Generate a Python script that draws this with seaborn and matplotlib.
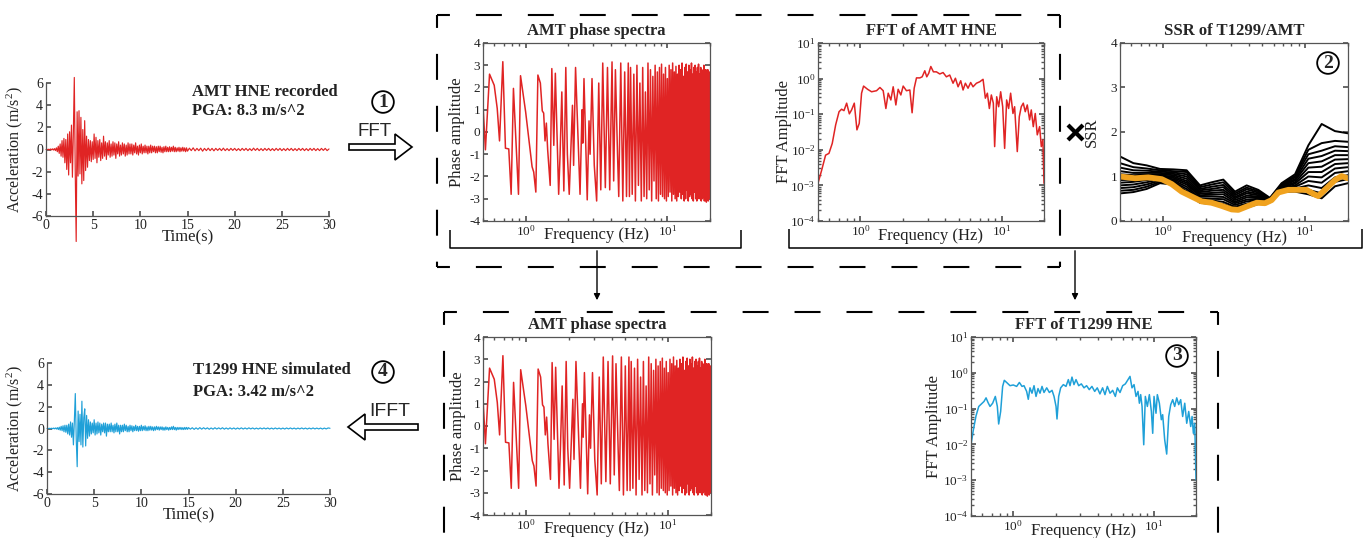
import numpy as np
import pandas as pd
import matplotlib
matplotlib.use("Agg")
import matplotlib.pyplot as plt
import matplotlib.patches as mpatches
import matplotlib.transforms as mtransforms
from matplotlib.lines import Line2D
from matplotlib.ticker import NullFormatter, LogLocator
import seaborn as sns

RED = "#e02424"
BLUE = "#1fa0d8"
ORANGE = "#f0a21e"
GRAY = "#555555"
TXT = "#222222"

# ---- acceleration records (m/s^2), 0-14.9 s every 0.1 s, then 15-30 s every 0.2 s
amt_acc_early = [
    0.00, 0.02, -0.02, 0.03, -0.03, 0.05, -0.04, 0.06, -0.05, 0.08,
    -0.10, 0.15, -0.20, 0.30, -0.35, 0.50, -0.60, 0.80, -0.70, 1.00,
    -1.20, 0.90, -1.80, 1.40, -2.30, 1.60, -1.20, 2.20, -2.50, 1.50,
    6.50, -2.00, -8.30, 3.40, -2.40, 3.50, -2.20, 2.90, -3.10, 1.80,
    -2.80, 2.60, -1.90, 1.20, -1.60, 0.90, -1.00, 0.80, -1.10, 0.70,
    -0.90, 1.40, -0.80, 1.10, -1.20, 0.80, -0.70, 0.90, -1.00, 0.60,
    -0.80, 1.20, -0.60, 0.70, -0.90, 0.60, -0.50, 0.80, -0.70, 0.50,
    -0.60, 0.70, -0.50, 0.60, -0.80, 0.50, -0.40, 0.70, -0.60, 0.40,
    -0.50, 0.60, -0.40, 0.50, -0.60, 0.40, -0.50, 0.60, -0.40, 0.50,
    -0.40, 0.50, -0.50, 0.40, -0.30, 0.60, -0.40, 0.30, -0.50, 0.40,
    -0.30, 0.50, -0.40, 0.30, -0.30, 0.40, -0.30, 0.30, -0.40, 0.30,
    -0.30, 0.40, -0.30, 0.30, -0.20, 0.30, -0.30, 0.25, -0.30, 0.30,
    -0.20, 0.30, -0.25, 0.20, -0.30, 0.25, -0.20, 0.30, -0.20, 0.20,
    -0.20, 0.25, -0.20, 0.20, -0.15, 0.30, -0.20, 0.20, -0.20, 0.15,
    -0.15, 0.20, -0.20, 0.15, -0.15, 0.20, -0.15, 0.15, -0.20, 0.15,
]
amt_acc_late = [
    -0.15, 0.12, -0.10, 0.15, -0.12, 0.10, -0.10, 0.12, -0.15, 0.10,
    -0.10, 0.12, -0.10, 0.10, -0.12, 0.10, -0.08, 0.10, -0.10, 0.12,
    -0.10, 0.08, -0.10, 0.10, -0.08, 0.10, -0.10, 0.08, -0.10, 0.10,
    -0.08, 0.10, -0.10, 0.08, -0.10, 0.12, -0.08, 0.10, -0.10, 0.08,
    -0.10, 0.10, -0.08, 0.10, -0.10, 0.08, -0.10, 0.10, -0.08, 0.10,
    -0.10, 0.08, -0.10, 0.10, -0.08, 0.10, -0.10, 0.08, -0.10, 0.10,
    -0.08, 0.10, -0.10, 0.08, -0.10, 0.10, -0.08, 0.10, -0.10, 0.08,
    -0.10, 0.10, -0.08, 0.10, -0.10, 0.05,
]
sim_acc_early = [
    0.00, 0.01, -0.01, 0.02, -0.02, 0.03, -0.03, 0.04, -0.03, 0.05,
    -0.05, 0.08, -0.10, 0.12, -0.15, 0.20, -0.20, 0.25, -0.30, 0.30,
    -0.35, 0.30, -0.50, 0.40, -0.60, 0.60, -0.80, 0.50, -1.50, 0.70,
    3.20, -1.00, -3.50, 1.60, -1.20, 1.30, -1.50, 2.50, -1.70, 1.00,
    1.80, -1.60, 1.20, -0.90, 0.80, -0.70, 0.60, -0.50, 0.50, -0.40,
    0.80, -0.60, 0.50, -0.50, 0.60, -0.40, 0.50, -0.60, 0.40, -0.30,
    0.50, -0.40, 0.50, -0.70, 0.40, -0.30, 0.40, -0.30, 0.50, -0.30,
    0.30, -0.40, 0.40, -0.30, 0.50, -0.30, 0.30, -0.50, 0.30, -0.30,
    0.30, -0.30, 0.40, -0.20, 0.30, -0.30, 0.20, -0.30, 0.30, -0.20,
    0.25, -0.30, 0.20, -0.20, 0.30, -0.20, 0.20, -0.25, 0.20, -0.20,
    0.30, -0.20, 0.20, -0.15, 0.25, -0.20, 0.15, -0.20, 0.20, -0.15,
    0.20, -0.15, 0.15, -0.20, 0.15, -0.15, 0.20, -0.10, 0.15, -0.15,
    0.15, -0.10, 0.15, -0.15, 0.10, -0.15, 0.15, -0.10, 0.10, -0.15,
    0.10, -0.10, 0.15, -0.10, 0.20, -0.10, 0.10, -0.15, 0.10, -0.10,
    0.10, -0.08, 0.10, -0.10, 0.08, -0.10, 0.10, -0.08, 0.10, -0.08,
]
sim_acc_late = [
    0.08, -0.06, 0.07, -0.08, 0.06, -0.07, 0.08, -0.06, 0.07, -0.05,
    0.06, -0.07, 0.05, -0.06, 0.07, -0.05, 0.06, -0.05, 0.07, -0.06,
    0.05, -0.06, 0.06, -0.05, 0.05, -0.06, 0.05, -0.05, 0.06, -0.05,
    0.05, -0.05, 0.06, -0.04, 0.05, -0.05, 0.04, -0.05, 0.05, -0.04,
    0.05, -0.04, 0.05, -0.05, 0.04, -0.05, 0.05, -0.04, 0.04, -0.05,
    0.04, -0.05, 0.05, -0.04, 0.05, -0.04, 0.04, -0.05, 0.04, -0.04,
    0.05, -0.04, 0.04, -0.05, 0.04, -0.04, 0.05, -0.04, 0.04, -0.04,
    0.04, -0.05, 0.04, -0.04, 0.05, 0.02,
]

# ---- AMT phase spectrum (rad): picked points below 5.5 Hz, then 0.15 Hz bins
phase_f_lo = [
    0.50, 0.52, 0.556, 0.60, 0.63, 0.654, 0.69, 0.72, 0.76, 0.79,
    0.82, 0.89, 0.92, 1.00, 1.11, 1.14, 1.18, 1.22, 1.27, 1.31,
    1.34, 1.37, 1.40, 1.43, 1.49, 1.53, 1.58, 1.62, 1.71, 1.75,
    1.80, 1.86, 1.92, 1.97, 2.03, 2.14, 2.18, 2.25, 2.42, 2.50,
    2.53, 2.58, 2.72, 2.80, 2.85, 2.94, 3.05, 3.17, 3.28, 3.39,
    3.50, 3.65, 3.78, 3.92, 4.07, 4.18, 4.30, 4.45, 4.54, 4.69,
    4.85, 5.00, 5.15, 5.30, 5.40,
]
phase_v_lo = [
    1.2, -0.8, 2.6, 2.1, 1.06, -0.4, 3.16, -0.73, -0.76, -2.8,
    1.96, -2.8, 2.53, 0.9, -1.56, -1.8, -2.7, 2.56, 2.2, 0.95,
    0.85, -0.4, 0.4, -0.8, -2.4, 2.85, -0.6, 2.64, -2.8, -1.0,
    1.8, -2.65, 2.9, -1.0, -2.8, 1.2, -1.5, 2.9, -2.8, 1.0,
    -0.5, 2.4, -3.05, 0.5, -1.0, 2.4, -1.5, -3.1, 2.2, -2.6,
    3.1, -2.5, 2.9, -2.6, 3.15, -2.2, 2.8, -1.0, -2.9, 3.1,
    -3.1, 2.7, -2.9, 3.1, -2.9,
]
phase_v_hi = [
    2.9, -2.8, 2.6, -3.1, 3.0, -2.4, 2.2, -3.1, 2.9, -2.9,
    1.8, -3.0, 3.1, -2.6, 2.8, -3.1, 2.5, -2.2, 3.0, -3.0,
    2.7, -3.1, 2.9, -2.8, 3.05, -2.9, 2.6, -3.0, 2.9, -3.1,
    2.4, -2.9, 3.0, -2.7, 2.8, -3.1, 3.1, -2.8, 2.7, -3.0,
    2.95, -3.1, 2.6, -2.9, 3.0, -2.7, 2.8, -3.0, 3.1, -2.8,
    2.5, -3.1, 2.9, -3.0, 3.05, -2.6, 2.7, -3.1, 3.0, -2.9,
    2.8, -2.8, 3.1, -3.0, 2.6, -3.1, 2.9, -2.7, 3.0, -3.0,
    2.7, -3.1, 2.9, -2.9, 3.05, -3.0, 2.6, -2.8, 2.9, -3.1,
    2.8, -3.0, 2.5, -2.9, 3.0, -3.1, 2.7, -3.0, 2.8, -3.15,
    2.6, -2.9, 2.8, -3.1, 2.5, -3.0, 2.7,
]

# ---- Fourier amplitude spectra (log10 of amplitude)
amt_fft_f = [
    0.5, 0.531, 0.566, 0.598, 0.631, 0.667, 0.705, 0.735, 0.764, 0.798,
    0.834, 0.865, 0.904, 0.944, 0.980, 1.018, 1.052, 1.123, 1.199, 1.300,
    1.374, 1.449, 1.514, 1.573, 1.642, 1.706, 1.782, 1.850, 1.933, 2.008,
    2.118, 2.239, 2.323, 2.403, 2.495, 2.636, 2.737, 2.858, 2.951, 3.048,
    3.153, 3.289, 3.455, 3.648, 3.851, 4.066, 4.293, 4.532, 4.710, 4.920,
    5.137, 5.337, 5.543, 5.788, 6.043, 6.281, 6.637, 7.003, 7.396, 7.681,
    7.935, 8.197, 8.468, 8.747, 8.937, 9.24, 9.54, 9.86, 10.19, 10.52,
    10.87, 11.23, 11.60, 12.05, 12.38, 12.93, 13.36, 13.80, 14.26, 14.73,
    15.22, 15.81, 16.25, 16.79, 17.34, 17.92, 18.62, 19.14, 19.65, 20.0,
]
amt_fft_log = [
    -2.94, -2.57, -2.15, -2.10, -1.82, -1.30, -0.93, -0.86, -0.90, -0.69,
    -0.99, -0.88, -0.69, -1.44, -1.26, -0.41, -0.21, -0.30, -0.37, -0.34,
    -0.25, -0.34, -0.84, -0.41, -0.60, -0.23, -0.74, -0.30, -0.46, -0.21,
    -0.34, -0.32, -0.96, -0.27, 0.02, 0.02, 0.05, 0.22, 0.05, 0.15,
    0.34, 0.19, 0.19, 0.13, 0.17, 0.05, 0.10, -0.13, 0.01, -0.23,
    -0.06, -0.32, -0.13, -0.27, -0.11, -0.23, -0.13, -0.09, -0.02, -0.55,
    -0.41, -0.84, -0.46, -0.69, -1.91, -0.51, -0.79, -0.37, -0.79, -1.96,
    -0.60, -0.84, -0.41, -0.98, -0.79, -2.05, -1.07, -0.79, -0.69, -0.93,
    -0.74, -1.16, -0.88, -1.35, -0.98, -1.58, -1.35, -1.91, -1.72, -2.94,
]
sim_fft_f = [
    0.50, 0.52, 0.543, 0.568, 0.593, 0.619, 0.640, 0.661, 0.683, 0.713,
    0.745, 0.770, 0.787, 0.813, 0.840, 0.863, 0.897, 0.948, 1.00, 1.057,
    1.105, 1.154, 1.192, 1.245, 1.279, 1.315, 1.359, 1.405, 1.452, 1.500,
    1.550, 1.602, 1.655, 1.730, 1.807, 1.888, 1.951, 2.016, 2.048, 2.105,
    2.175, 2.272, 2.374, 2.466, 2.535, 2.618, 2.705, 2.797, 2.922, 3.052,
    3.189, 3.327, 3.476, 3.631, 3.800, 3.963, 4.140, 4.325, 4.497, 4.675,
    4.884, 5.102, 5.330, 5.509, 5.754, 6.011, 6.280, 6.561, 6.777, 7.003,
    7.242, 7.482, 7.730, 7.906, 8.076, 8.260, 8.490, 8.716, 9.009, 9.311,
    9.623, 9.836, 10.05, 10.38, 10.61, 10.97, 11.33, 11.58, 11.97, 12.37,
    12.79, 13.21, 13.65, 14.10, 14.58, 15.06, 15.56, 16.07, 16.63, 17.18,
    17.75, 18.34, 18.75, 19.16, 19.59, 20.0,
]
sim_fft_log = [
    -2.01, -1.59, -1.20, -0.94, -0.87, -0.80, -0.70, -0.83, -0.94, -0.85,
    -0.66, -0.94, -1.43, -1.08, -0.38, -0.21, -0.27, -0.36, -0.34, -0.38,
    -0.27, -0.38, -0.36, -0.52, -0.74, -0.42, -0.57, -0.36, -0.66, -0.44,
    -0.57, -0.38, -0.55, -0.42, -0.55, -0.49, -0.66, -0.94, -1.29, -0.66,
    -0.42, -0.33, -0.38, -0.19, -0.36, -0.12, -0.33, -0.19, -0.36, -0.31,
    -0.42, -0.36, -0.47, -0.38, -0.52, -0.42, -0.59, -0.42, -0.61, -0.38,
    -0.57, -0.49, -0.66, -0.42, -0.55, -0.36, -0.31, -0.19, -0.10, -0.42,
    -0.33, -0.66, -0.52, -0.85, -0.61, -0.94, -2.01, -0.66, -0.94, -0.61,
    -1.08, -1.69, -0.66, -1.13, -0.61, -0.85, -1.31, -1.17, -1.87, -2.27,
    -1.22, -0.89, -0.75, -0.94, -0.70, -0.89, -0.75, -1.22, -0.85, -1.41,
    -1.08, -1.50, -1.22, -1.69, -1.41, -2.99,
]

# ---- site spectral ratios T1299/AMT
ssr_f = [0.50, 0.621, 0.770, 0.955, 1.185, 1.470, 1.824, 2.203, 2.660, 3.212,
         3.878, 4.683, 5.655, 6.83, 8.49, 10.53, 13.06, 16.2, 20.0]
ssr_black = [
    [0.62, 0.65, 0.72, 0.85, 0.82, 0.62, 0.41, 0.38, 0.33, 0.25, 0.30, 0.38, 0.42, 0.66, 0.66, 0.60, 0.51, 0.78, 0.85],
    [0.68, 0.70, 0.77, 0.88, 0.85, 0.67, 0.44, 0.42, 0.38, 0.29, 0.35, 0.41, 0.43, 0.68, 0.70, 0.70, 0.62, 0.88, 0.94],
    [0.74, 0.76, 0.82, 0.91, 0.88, 0.72, 0.48, 0.46, 0.43, 0.32, 0.39, 0.44, 0.44, 0.69, 0.73, 0.80, 0.74, 0.98, 1.03],
    [0.80, 0.82, 0.87, 0.94, 0.91, 0.77, 0.51, 0.50, 0.49, 0.36, 0.44, 0.47, 0.45, 0.71, 0.77, 0.90, 0.86, 1.08, 1.12],
    [0.86, 0.88, 0.92, 0.97, 0.94, 0.82, 0.55, 0.55, 0.54, 0.40, 0.48, 0.50, 0.46, 0.73, 0.80, 1.00, 0.98, 1.18, 1.21],
    [0.92, 0.93, 0.96, 1.00, 0.97, 0.86, 0.58, 0.59, 0.60, 0.43, 0.53, 0.53, 0.47, 0.74, 0.84, 1.10, 1.10, 1.28, 1.30],
    [0.98, 0.98, 1.00, 1.02, 1.00, 0.90, 0.62, 0.63, 0.65, 0.47, 0.57, 0.55, 0.47, 0.76, 0.87, 1.20, 1.22, 1.38, 1.39],
    [1.05, 1.03, 1.04, 1.05, 1.03, 0.95, 0.65, 0.68, 0.70, 0.51, 0.62, 0.58, 0.48, 0.78, 0.91, 1.30, 1.34, 1.48, 1.48],
    [1.12, 1.08, 1.08, 1.08, 1.06, 1.00, 0.69, 0.72, 0.76, 0.54, 0.66, 0.61, 0.49, 0.79, 0.94, 1.40, 1.46, 1.58, 1.57],
    [1.20, 1.14, 1.13, 1.11, 1.09, 1.05, 0.72, 0.77, 0.81, 0.58, 0.71, 0.64, 0.50, 0.81, 0.98, 1.50, 1.58, 1.68, 1.66],
    [1.30, 1.21, 1.18, 1.14, 1.12, 1.10, 0.76, 0.82, 0.87, 0.62, 0.75, 0.67, 0.51, 0.83, 1.01, 1.60, 1.75, 1.80, 1.78],
    [1.45, 1.30, 1.25, 1.17, 1.16, 1.14, 0.80, 0.87, 0.93, 0.66, 0.80, 0.70, 0.52, 0.85, 1.05, 1.70, 2.18, 2.02, 1.97],
]
ssr_orange_f = [0.50, 0.637, 0.791, 0.982, 1.154, 1.356, 1.593, 1.873, 2.203, 2.588,
                3.046, 3.390, 3.988, 4.563, 5.222, 5.816, 6.475, 7.617, 8.95, 10.24,
                11.41, 12.37, 13.77, 16.2, 18.05, 19.9]
ssr_orange = [1.00, 0.96, 0.98, 0.94, 0.83, 0.66, 0.55, 0.44, 0.41, 0.34,
              0.26, 0.25, 0.34, 0.41, 0.40, 0.47, 0.64, 0.70, 0.70, 0.70,
              0.61, 0.56, 0.70, 0.92, 1.01, 0.96]


sns.set_theme(style="ticks")
plt.rcParams["font.family"] = ["Liberation Serif", "DejaVu Serif"]
plt.rcParams["mathtext.fontset"] = "custom"
plt.rcParams["mathtext.rm"] = "Liberation Serif"
plt.rcParams["mathtext.it"] = "Liberation Serif:italic"
plt.rcParams["axes.unicode_minus"] = False
plt.rcParams["lines.scale_dashes"] = False

W, H = 1371, 538
fig = plt.figure(figsize=(W / 100, H / 100), dpi=100)
fig.patch.set_facecolor("white")
# pixel coords (origin top-left) -> figure
pix = mtransforms.Affine2D().scale(1 / W, -1 / H).translate(0, 1) + fig.transFigure


def add_ax(l, t, r, b):
    return fig.add_axes([l / W, 1 - b / H, (r - l) / W, (b - t) / H])


def style_ax(ax, box=True, size=9.5):
    for s in ax.spines.values():
        s.set_color(GRAY)
        s.set_linewidth(0.9)
    if not box:
        sns.despine(ax=ax)
    ax.tick_params(which="both", direction="in", top=box, right=box,
                   colors=GRAY, labelcolor=TXT, labelsize=size, pad=2)
    ax.tick_params(which="major", length=3.5)
    ax.tick_params(which="minor", length=2)
    ax.set_facecolor("white")
    ax.grid(False)


def log_x(ax):
    ax.set_xscale("log")
    ax.set_xlim(0.5, 20)
    ax.xaxis.set_minor_formatter(NullFormatter())


def time_panel(ax, early, late, color, ylx):
    t = np.concatenate([np.arange(len(early)) * 0.1, 15 + np.arange(len(late)) * 0.2])
    sns.lineplot(x=t, y=np.array(early + late), ax=ax, color=color, lw=0.85,
                 estimator=None, sort=False)
    ax.lines[-1].set_clip_on(False)
    style_ax(ax, box=False, size=10)
    ax.set_xlim(0, 30)
    ax.set_ylim(-6, 6)
    ax.set_xticks(range(0, 31, 5))
    ax.set_yticks(range(-6, 7, 2))
    ax.set_xlabel("Time(s)", fontsize=12, color=TXT)
    ax.set_ylabel("Acceleration (m/s$^2$)", fontsize=11.5, color=TXT)
    ax.xaxis.set_label_coords(0.5, -0.1)
    ax.yaxis.set_label_coords(ylx, 0.5)


def phase_panel(ax, ylx):
    f = np.concatenate([phase_f_lo, 5.5 + np.arange(len(phase_v_hi)) * 0.15])
    v = np.concatenate([phase_v_lo, phase_v_hi])
    sns.lineplot(x=f, y=v, ax=ax, color=RED, lw=1.1, estimator=None, sort=False)
    log_x(ax)
    ax.set_ylim(-4, 4)
    ax.set_yticks(range(-4, 5))
    style_ax(ax)
    ax.set_title("AMT phase spectra", fontsize=12, fontweight="bold")
    ax.set_xlabel("Frequency (Hz)", fontsize=12, color=TXT)
    ax.set_ylabel("Phase amplitude", fontsize=12, color=TXT)
    ax.xaxis.set_label_coords(0.5, -0.035)
    ax.yaxis.set_label_coords(ylx, 0.5)


def fft_panel(ax, f, logamp, color, title, ylx):
    sns.lineplot(x=np.array(f), y=10.0 ** np.array(logamp), ax=ax, color=color,
                 lw=1.1, estimator=None, sort=False)
    log_x(ax)
    ax.set_yscale("log")
    ax.set_ylim(1e-4, 10)
    ax.yaxis.set_major_locator(LogLocator(base=10, numticks=10))
    ax.yaxis.set_minor_locator(LogLocator(base=10, subs=np.arange(2, 10), numticks=10))
    ax.yaxis.set_minor_formatter(NullFormatter())
    style_ax(ax)
    ax.set_title(title, fontsize=12, fontweight="bold")
    ax.set_xlabel("Frequency (Hz)", fontsize=12, color=TXT)
    ax.set_ylabel("FFT Amplitude", fontsize=12, color=TXT)
    ax.xaxis.set_label_coords(0.5, -0.04)
    ax.yaxis.set_label_coords(ylx, 0.5)


# ---- panels
ax_rec = add_ax(46, 83, 329, 216)
time_panel(ax_rec, amt_acc_early, amt_acc_late, RED, -0.075)

ax_sim = add_ax(47, 363, 330, 494)
time_panel(ax_sim, sim_acc_early, sim_acc_late, BLUE, -0.078)

ax_ph1 = add_ax(483, 43, 710, 221)
phase_panel(ax_ph1, -0.08)

ax_ph2 = add_ax(483, 337, 711, 515)
phase_panel(ax_ph2, -0.075)

ax_fft1 = add_ax(818, 43, 1044, 221)
fft_panel(ax_fft1, amt_fft_f, amt_fft_log, RED, "FFT of AMT HNE", -0.115)

ax_fft2 = add_ax(971, 337, 1196, 516)
fft_panel(ax_fft2, sim_fft_f, sim_fft_log, BLUE, "FFT of T1299 HNE", -0.13)

ax_ssr = add_ax(1120, 43, 1348, 221)
ssr_df = pd.DataFrame({
    "freq": np.tile(ssr_f, len(ssr_black)),
    "ssr": np.concatenate(ssr_black),
    "curve": np.repeat(np.arange(len(ssr_black)), len(ssr_f)),
})
sns.lineplot(data=ssr_df, x="freq", y="ssr", units="curve", estimator=None,
             color="black", lw=1.4, sort=False, ax=ax_ssr)
sns.lineplot(x=ssr_orange_f, y=ssr_orange, color=ORANGE, lw=4.2,
             estimator=None, sort=False, ax=ax_ssr)
log_x(ax_ssr)
ax_ssr.set_ylim(0, 4)
ax_ssr.set_yticks(range(0, 5))
style_ax(ax_ssr)
ax_ssr.set_title("SSR of T1299/AMT", fontsize=12, fontweight="bold")
ax_ssr.set_xlabel("Frequency (Hz)", fontsize=12, color=TXT)
ax_ssr.set_ylabel("SSR", fontsize=12, color=TXT)
ax_ssr.xaxis.set_label_coords(0.5, -0.05)
ax_ssr.yaxis.set_label_coords(-0.09, 0.5)


# ---- annotations in pixel space
def seg(xs, ys, dashed=False, lw=1.1):
    kw = dict(transform=pix, color="black", lw=lw, solid_capstyle="butt")
    if dashed:
        kw["linestyle"] = (9.4, (18.7, 18.7))
        kw["lw"] = 1.5
    fig.add_artist(Line2D(xs, ys, **kw))


# dashed frame around the spectra (top)
seg([437, 1060], [15, 15], True)
seg([437, 437], [15, 267], True)
seg([1060, 1060], [15, 267], True)
seg([437, 1060], [267, 267], True)
# dashed frame around the bottom spectra
seg([444, 1218], [312, 312], True)
seg([444, 444], [312, 540], True)
seg([1218, 1218], [312, 540], True)

# solid brackets
seg([450, 450, 741, 741], [230, 248, 248, 230])
seg([789, 789, 1362, 1362], [229, 248, 248, 229])

# down arrows
for x0 in [597, 1075]:
    fig.add_artist(mpatches.FancyArrowPatch((x0, 248), (x0, 303), transform=pix,
                                            arrowstyle="-|>", mutation_scale=9,
                                            color="black", lw=1.0))

# hollow arrows FFT / IFFT
fig.add_artist(mpatches.FancyArrow(349, 147, 63, 0, width=6, head_width=26,
                                   head_length=17, length_includes_head=True,
                                   transform=pix, fc="white", ec="black", lw=1.2))
fig.add_artist(mpatches.FancyArrow(418, 427, -70, 0, width=6, head_width=26,
                                   head_length=17, length_includes_head=True,
                                   transform=pix, fc="white", ec="black", lw=1.2))
fig.text(375 / W, 1 - 132 / H, "FFT", family="Liberation Sans", fontsize=13.5,
         ha="center", va="center")
fig.text(390 / W, 1 - 411 / H, "IFFT", family="Liberation Sans", fontsize=14,
         ha="center", va="center")

# multiplication sign
seg([1068, 1083], [125, 140], lw=3.0)
seg([1068, 1083], [140, 125], lw=3.0)

# circled step numbers
for num, (cx, cy) in zip("1234", [(383, 102), (1328, 63), (1177, 356), (383, 372)]):
    fig.text(cx / W, 1 - cy / H, num, ha="center", va="center", fontsize=14,
             fontweight="bold",
             bbox=dict(boxstyle="circle,pad=0.12", fc="white", ec="black", lw=1.3))

# record annotations
fig.text(192 / W, 1 - 92 / H, "AMT HNE recorded", fontsize=12, fontweight="bold",
         ha="left", va="center", color=TXT)
fig.text(192 / W, 1 - 111 / H, "PGA: 8.3 m/s^2", fontsize=12, fontweight="bold",
         ha="left", va="center", color=TXT)
fig.text(193 / W, 1 - 370 / H, "T1299 HNE simulated", fontsize=12, fontweight="bold",
         ha="left", va="center", color=TXT)
fig.text(193 / W, 1 - 392 / H, "PGA: 3.42 m/s^2", fontsize=12, fontweight="bold",
         ha="left", va="center", color=TXT)

fig.savefig("out.png", dpi=100, facecolor="white")
